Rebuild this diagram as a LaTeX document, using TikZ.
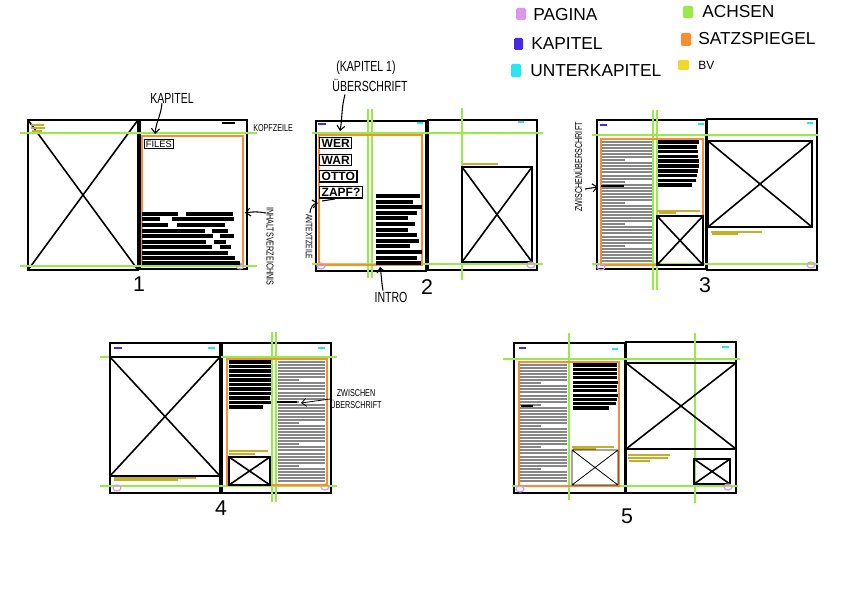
\documentclass[tikz,border=0pt]{standalone}
\usepackage{fontspec}
\setmainfont{Liberation Sans}
\newfontfamily\hand[FakeStretch=0.72]{Liberation Sans}
\newfontfamily\handw{Liberation Sans}
\usetikzlibrary{arrows.meta}
\definecolor{achsen}{RGB}{150,235,70}
\definecolor{satz}{RGB}{250,140,50}
\definecolor{pagina}{RGB}{220,150,235}
\definecolor{kap}{RGB}{70,40,230}
\definecolor{ukap}{RGB}{40,230,245}
\definecolor{bv}{RGB}{240,215,40}
\definecolor{bvd}{RGB}{195,175,40}
\definecolor{gtext}{RGB}{135,135,135}
\tikzset{
 pg/.style={draw=black,line width=1.6pt},
 ax/.style={draw=achsen,line width=1.2pt},
 sp/.style={draw=satz,line width=1.1pt},
 imgl/.style={draw=black,line width=1.2pt},
 thinimg/.style={draw=black,line width=0.6pt},
 blkbar/.style={draw=black,line width=3pt},
 gl/.style={draw=gtext,line width=1.5pt},
 bvl/.style={draw=bvd,line width=1.1pt},
 kmark/.style={draw=kap,line width=1.6pt},
 umark/.style={draw=ukap,line width=1.6pt},
 pmark/.style={draw=pagina,line width=0.9pt},
 lbl/.style={font=\hand\fontsize{11}{12}\selectfont, inner sep=0pt},
 smlbl/.style={font=\hand\fontsize{7.5}{8.5}\selectfont, inner sep=0pt},
 numlbl/.style={font=\handw\fontsize{16}{16}\selectfont, inner sep=0pt},
 legtxt/.style={font=\handw\fontsize{13}{14}\selectfont, inner sep=0pt, anchor=west},
 wbox/.style={draw, line width=1.1pt, inner xsep=1.5pt, inner ysep=1pt, anchor=north west, font=\handw\bfseries\fontsize{9}{9}\selectfont},
 arr/.style={draw=black, line width=0.8pt, -{Straight Barb[length=3.5pt,width=6pt]}},
}
\newcommand\ximg[5][imgl]{\draw[#1] (#2,#3) rectangle (#4,#5) (#2,#3) -- (#4,#5) (#2,#5) -- (#4,#3);}
\newcommand\grtext[5]{%
 \foreach \k in {0,...,#4}{%
   \pgfmathsetmacro\yy{#3+#5*\k}%
   \pgfmathsetmacro\xe{mod(\k,7)==6 ? #1+0.45*(#2-#1) : #2}%
   \draw[gl] (#1,\yy) -- (\xe,\yy);}}
\newcommand\barsblk[5][3pt]{%
 \foreach \xe [count=\k from 0] in {#5}{%
   \pgfmathsetmacro\yy{#3+#4*\k}%
   \draw[blkbar, line width=#1] (#2,\yy) -- (\xe,\yy);}}
\newcommand\pag[2]{\draw[pmark] (#1,#2) ellipse (4 and 3);}
\begin{document}
\begin{tikzpicture}[x=0.75pt,y=-0.75pt]
\useasboundingbox[fill=white] (0,0) rectangle (845,598);

% ---------- legend ----------
\fill[pagina, rounded corners=1pt] (516,8) rectangle (526,20);
\node[legtxt] (lpag) at (533,15) {PAGINA};
\fill[kap, rounded corners=1pt] (514,38) rectangle (523,50);
\node[legtxt] (lkap) at (531,44) {KAPITEL};
\fill[ukap, rounded corners=1pt] (511,64) rectangle (521,77);
\node[legtxt] (lukap) at (530,71) {UNTERKAPITEL};
\fill[achsen, rounded corners=1pt] (683,6) rectangle (693,18);
\node[legtxt] (lach) at (702,12) {ACHSEN};
\fill[satz, rounded corners=1pt] (681,33) rectangle (691,46);
\node[legtxt] (lsatz) at (698,39) {SATZSPIEGEL};
\fill[bv, rounded corners=1pt] (678,60) rectangle (689,70);
\node[legtxt, font=\handw\fontsize{9}{10}\selectfont] (lbv) at (698,65) {BV};

% ---------- spread 1 ----------
\draw[pg] (28,120) rectangle (138,270);
\draw[pg] (140,120) rectangle (247,269);
\draw[imgl] (28,120) -- (138,270) (28,270) -- (138,120);
\draw[ax] (20,133) -- (257,133);
\draw[ax] (20,266) -- (257,266);
\draw[sp] (142,136) rectangle (243,264);
\node[wbox, font=\handw\fontsize{7}{7}\selectfont, line width=0.9pt, inner sep=1pt] (files) at (144,139) {FILES};
\draw[bvl, line width=1.5pt] (31,125)--(44,125) (31,128)--(45,128) (32,131)--(42,131);
\draw[line width=1pt] (222,123)--(235,123);
\pag{240}{266}
\foreach \yy/\xa/\xb/\xc in {214/178/186/233, 219/160/172/234, 225/168/177/225, 231/205/212/228, 236/213/220/234, 242/206/214/226, 247/212/220/231, 253/226/226/228, 258/234/234/235, 263/240/240/240}{%
  \draw[blkbar] (142,\yy)--(\xa,\yy); \draw[blkbar] (\xb,\yy)--(\xc,\yy);}
\node[lbl] (kapl) at (172,98) {KAPITEL};
\coordinate (kapt) at (155,134);
\draw[arr] ([shift={(-10,0)}]kapl.south) to[out=-95,in=85] (kapt);
\node[smlbl, anchor=west] (kopf) at (253,128) {KOPFZEILE};
\node[smlbl, rotate=-90, anchor=west] (inh) at (270,207) {INHALTSVERZEICHNIS};
\coordinate (inht) at (245,213);
\draw[arr] ([shift={(-4,6)}]inh.west) to[out=170,in=10] (inht);
\node[numlbl] (n1) at (139,284) {1};

% ---------- spread 2 ----------
\draw[pg] (316,121) rectangle (426,271);
\draw[pg] (428,120) rectangle (537,270);
\draw[ax] (312,133) -- (543,133);
\draw[ax] (312,264) -- (543,264);
\draw[ax] (368,109) -- (368,278) (372,109) -- (372,278);
\draw[ax] (462,108) -- (462,280);
\draw[sp] (319,135) rectangle (422,265);
\node[wbox] (wer) at (319,137) {WER};
\node[wbox] (war) at (319,154) {WAR};
\node[wbox] (otto) at (319,170) {OTTO};
\node[wbox] (zapf) at (319,186) {ZAPF?};
\draw[line width=0.8pt] (322,201) -- (335,199);
\barsblk{376}{196}{5.6}{420,413,422,417,408,415,408,417,419,410,422,417,421}
\ximg{462}{167}{532}{262}
\draw[bvl] (463,164) -- (498,164);
\draw[kmark] (318,124) -- (326,124);
\draw[umark] (417,123) -- (423,123);
\draw[umark] (518,122) -- (524,122);
\pag{321}{266}
\pag{531}{265}
\node[lbl] (kap1) at (366,68) {(KAPITEL 1)};
\node[lbl] (ueb) at (370,85) {ÜBERSCHRIFT};
\coordinate (uebt) at (340,131);
\draw[arr] ([shift={(-25,3)}]ueb.south) to[out=-105,in=80] (uebt);
\node[lbl] (intro) at (391,297) {INTRO};
\coordinate (introt) at (380,267);
\draw[arr] ([shift={(-8,-1)}]intro.north) to[out=100,in=-80] (introt);
\node[smlbl, rotate=-90, anchor=west, font=\hand\fontsize{7}{8}\selectfont] (ant) at (309,214) {ANTEXTZEILE};
\coordinate (antt) at (318,203);
\draw[arr] ([shift={(1,-1)}]ant.west) to[out=90,in=190] (antt);
\node[numlbl] (n2) at (427,287) {2};

% ---------- spread 3 ----------
\draw[pg] (597,120) rectangle (706,269);
\draw[pg] (707,119) rectangle (817,270);
\draw[ax] (592,135) -- (818,135);
\draw[ax] (592,264) -- (818,264);
\draw[ax] (653,110) -- (653,290) (657,110) -- (657,290);
\draw[sp] (601,139) rectangle (703,265);
\grtext{602}{652}{142}{39}{3.05}
\draw[line width=1.8pt] (601,186) -- (624,186);
\barsblk[2.6pt]{658}{142}{4.8}{699,697,698,698,699,699,698,697,696,692}
\draw[bvl] (657,211) -- (700,211);
\draw[bvl, line width=0.8pt] (659,213) -- (676,213);
\ximg{657}{216}{703}{265}
\ximg{708}{141}{812}{227}
\draw[bvl] (711,232) -- (762,232);
\draw[bvl, line width=0.8pt] (712,234) -- (738,234);
\draw[kmark] (600,125) -- (607,125);
\draw[umark] (698,124) -- (704,124);
\draw[umark] (807,123) -- (813,123);
\pag{601}{267}
\pag{811}{265}
\node[smlbl, rotate=90] (zw) at (578,167) {ZWISCHENÜBERSCHRIFT};
\coordinate (zwt) at (598,187);
\draw[arr] ([shift={(7,22)}]zw.center) -- (zwt);
\node[numlbl] (n3) at (705,285) {3};

% ---------- spread 4 ----------
\draw[pg] (110,343) rectangle (220,493);
\draw[pg] (222,343) rectangle (331,493);
\draw[ax] (100,357) -- (337,357);
\draw[ax] (100,486) -- (337,486);
\draw[ax] (272,332) -- (272,502) (276,332) -- (276,502);
\ximg{110}{357}{220}{476}
\draw[bvl] (114,478) -- (196,478);
\draw[bvl, line width=0.8pt] (114,480) -- (178,480);
\draw[kmark] (114,348) -- (122,348);
\draw[umark] (208,348) -- (215,348);
\draw[umark] (318,348) -- (325,348);
\pag{117}{488}
\pag{325}{487}
\draw[sp] (227,359) rectangle (327,485);
\barsblk[2.4pt]{229}{362}{4.5}{271,271,271,271,271,271,271,271,270,271,263}
\draw[bvl] (229,451) -- (268,451);
\draw[bvl, line width=0.8pt] (229,454) -- (255,454);
\ximg{229}{457}{270}{485}
\grtext{278}{325}{362}{39}{3.05}
\draw[line width=1.8pt] (277,402) -- (297,402);
\node[smlbl, align=center] (zw4) at (356,399) {ZWISCHEN\\ÜBERSCHRIFT};
\coordinate (zw4t) at (301,403);
\draw[arr, line width=0.6pt] (zw4.west) -- (zw4t);
\node[numlbl] (n4) at (221,508) {4};

% ---------- spread 5 ----------
\draw[pg] (514,343) rectangle (625,493);
\draw[pg] (626,342) rectangle (736,493);
\draw[ax] (503,359) -- (740,359);
\draw[ax] (512,486) -- (738,486);
\draw[ax] (569,333) -- (569,500);
\draw[ax] (695,333) -- (695,503);
\draw[sp] (519,362) rectangle (619,486);
\grtext{520}{567}{365}{38}{3.05}
\draw[line width=1.6pt] (521,406) -- (533,406);
\barsblk[2.3pt]{573}{365}{4.3}{617,617,617,617,618,617,617,618,617,616,609}
\draw[bvl] (572,447) -- (614,447);
\draw[bvl, line width=0.8pt] (573,449) -- (596,449);
\ximg[thinimg]{572}{450}{618}{485}
\ximg{626}{363}{736}{449}
\draw[bvl] (628,455) -- (670,455);
\draw[bvl, line width=0.8pt] (628,458) -- (668,458);
\draw[bvl, line width=0.8pt] (629,461) -- (650,461);
\ximg{694}{459}{730}{484}
\draw[kmark] (519,348) -- (526,348);
\draw[umark] (612,349) -- (618,349);
\draw[umark] (722,347) -- (729,347);
\pag{520}{489}
\pag{728}{487}
\node[numlbl] (n5) at (627,516) {5};
\end{tikzpicture}
\end{document}
